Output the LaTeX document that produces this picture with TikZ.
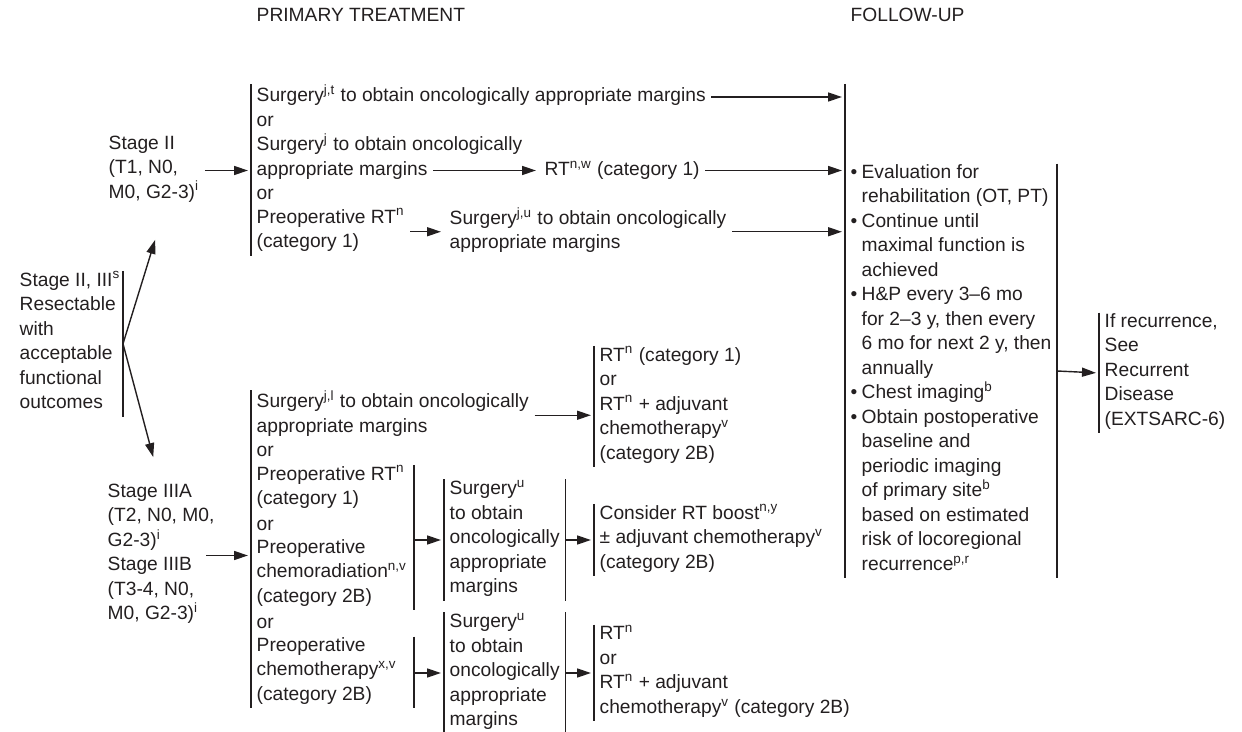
\documentclass[tikz,border=0pt]{standalone}
\usepackage{fontspec}
\setmainfont{Liberation Sans}
\usetikzlibrary{arrows.meta, positioning, calc}
\definecolor{ink}{HTML}{231F20}
\newcommand{\fub}{\makebox[5.5pt][l]{\textbullet}}
\newcommand{\fui}{\hspace*{5.5pt}}

\begin{document}
\begin{tikzpicture}[x=0.5pt, y=-0.5pt, ink, line width=0.7pt,
    txt/.style={anchor=west, align=left, inner xsep=2.5pt, inner ysep=0pt,
        font=\fontsize{9.6}{12.25}\selectfont,
        execute at begin node=\strut, execute at end node=\strut},
    arr/.style={-{Triangle[length=7pt, width=4.5pt]}, shorten >=1.5pt}]
    \useasboundingbox (0,0) rectangle (1242,732);

    \node[txt] (hprim) at (251,17) {PRIMARY TREATMENT};
    \node[txt] (hfol) at (845,17) {FOLLOW-UP};

    \node[txt, anchor=east, inner xsep=1pt] (res) at (123,343.75) {Stage II, III\textsuperscript{s}\\Resectable\\with\\acceptable\\functional\\outcomes};
    \node[txt] (s2) at (103,170.5) {Stage II\\(T1, N0,\\M0, G2-3)\textsuperscript{i}};
    \node[txt] (s3) at (102,555.5) {Stage IIIA\\(T2, N0, M0,\\G2-3)\textsuperscript{i}\\Stage IIIB\\(T3-4, N0,\\M0, G2-3)\textsuperscript{i}};
    \coordinate (up) at (156,237);
    \coordinate (dn) at (154,460);

    \node[txt] (a1) at (251,97) {Surgery\textsuperscript{j,t} to obtain oncologically appropriate margins};
    \node[txt] (a2) at (251,121.5) {or};
    \node[txt] (a3) at (251,146) {Surgery\textsuperscript{j} to obtain oncologically};
    \node[txt] (a4) at (251,170.5) {appropriate margins};
    \node[txt] (a5) at (251,195) {or};
    \node[txt] (a6) at (251,231.75) {Preoperative RT\textsuperscript{n}\\(category 1)};
    \node[txt] (rt1) at (539,170.5) {RT\textsuperscript{n,w} (category 1)};
    \node[txt] (su1) at (444,231.75) {Surgery\textsuperscript{j,u} to obtain oncologically\\appropriate margins};

    \node[txt] (b1) at (251,415.25) {Surgery\textsuperscript{j,l} to obtain oncologically\\appropriate margins};
    \node[txt] (b2) at (251,452) {or};
    \node[txt] (b3) at (251,488.75) {Preoperative RT\textsuperscript{n}\\(category 1)};
    \node[txt] (b4) at (251,525.5) {or};
    \node[txt] (b5) at (251,574.5) {Preoperative\\chemoradiation\textsuperscript{n,v}\\(category 2B)};
    \node[txt] (b6) at (251,623.5) {or};
    \node[txt] (b7) at (251,672.5) {Preoperative\\chemotherapy\textsuperscript{x,v}\\(category 2B)};
    \coordinate (colA) at (414,0);

    \node[txt] (sg1) at (444,540) {Surgery\textsuperscript{u}\\to obtain\\oncologically\\appropriate\\margins};
    \node[txt] (sg2) at (444,673) {Surgery\textsuperscript{u}\\to obtain\\oncologically\\appropriate\\margins};
    \node[txt] (d1) at (594,406.5) {RT\textsuperscript{n} (category 1)\\or\\RT\textsuperscript{n} + adjuvant\\chemotherapy\textsuperscript{v}\\(category 2B)};
    \node[txt] (d2) at (594,540) {Consider RT boost\textsuperscript{n,y}\\± adjuvant chemotherapy\textsuperscript{v}\\(category 2B)};
    \node[txt] (d3) at (594,673) {RT\textsuperscript{n}\\or\\RT\textsuperscript{n} + adjuvant\\chemotherapy\textsuperscript{v} (category 2B)};

    \coordinate (futop) at (845,84);
    \node[txt] (fu) at (845,371) {\fub Evaluation for\\\fui rehabilitation (OT, PT)\\\fub Continue until\\\fui maximal function is\\\fui achieved\\\fub H\&P every 3–6 mo\\\fui for 2–3 y, then every\\\fui 6 mo for next 2 y, then\\\fui annually\\\fub Chest imaging\textsuperscript{b}\\\fub Obtain postoperative\\\fui baseline and\\\fui periodic imaging\\\fui of primary site\textsuperscript{b}\\\fui based on estimated\\\fui risk of locoregional\\\fui recurrence\textsuperscript{p,r}};
    \node[txt] (rec) at (1099,373) {If recurrence,\\See\\Recurrent\\Disease\\(EXTSARC-6)};

    \draw (res.north east) -- (res.south east);
    \draw (a1.north west) -- (a6.south west);
    \draw (b1.north west) -- (b7.south west);
    \draw (b3.north -| colA) -- (b5.south -| colA);
    \draw (b7.north -| colA) -- (b7.south -| colA);
    \foreach \n in {sg1,sg2,d1,d2,d3,rec}
        \draw (\n.north west) -- (\n.south west);
    \draw (sg1.north east) -- (sg1.south east);
    \draw (sg2.north east) -- (sg2.south east);
    \draw (futop) -- (fu.south west);
    \draw (fu.north east) -- (fu.south east);

    \draw[arr] (res.east) -- (up);
    \draw[arr] (res.east) -- (dn);
    \draw[arr] (s2.east) -- (a4.west);
    \draw[arr] ([xshift=-7pt]s3.east) -- (s3.east -| b1.west);
    \draw[arr] (a1.east) -- (a1.east -| fu.west);
    \draw[arr] (a4.east) -- (rt1.west);
    \draw[arr] (rt1.east) -- (rt1.east -| fu.west);
    \draw[arr] (a6.east) -- (su1.west);
    \draw[arr] (su1.east) -- (su1.east -| fu.west);
    \draw[arr] (b1.east) -- (b1.east -| d1.west);
    \draw[arr] (sg1.west -| colA) -- (sg1.west);
    \draw[arr] (sg1.east) -- (d2.west);
    \draw[arr] (sg2.west -| colA) -- (sg2.west);
    \draw[arr] (sg2.east) -- (d3.west);
    \draw[arr] (fu.east) -- (rec.west);
\end{tikzpicture}
\end{document}
